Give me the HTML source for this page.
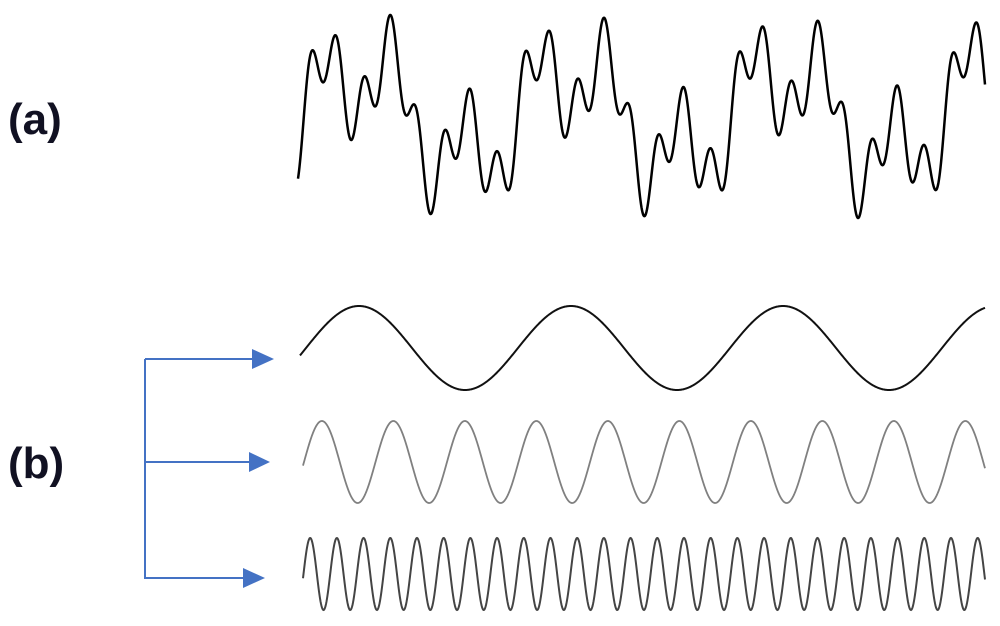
<!DOCTYPE html>
<html><head><meta charset="utf-8"><style>
html,body{margin:0;padding:0;background:#fff;}
svg{display:block;}
text{font-family:"Liberation Sans",sans-serif;font-weight:bold;font-size:44px;fill:#111122;}
</style></head><body>
<svg id="s" width="1000" height="626" viewBox="0 0 1000 626" xmlns="http://www.w3.org/2000/svg">
<text x="8" y="134">(a)</text>
<text x="8" y="478">(b)</text>
<g stroke="#4472C4" stroke-width="2" fill="none">
<line x1="145" y1="359" x2="145" y2="579"/>
<line x1="145" y1="359" x2="255" y2="359"/>
<line x1="145" y1="462" x2="252" y2="462"/>
<line x1="145" y1="578" x2="245" y2="578"/>
</g>
<g fill="#4472C4">
<polygon points="252,349 274,359 252,369"/>
<polygon points="249,452 270,462 249,472"/>
<polygon points="243,568 265,578 243,588"/>
</g>
<path id="pa" fill="none" stroke="#000" stroke-width="2.5" stroke-linejoin="round"/>
<path id="p1" fill="none" stroke="#111" stroke-width="2"/>
<path id="p2" fill="none" stroke="#808080" stroke-width="1.8"/>
<path id="p3" fill="none" stroke="#444" stroke-width="2"/>
</svg>
<script>
(function(){
var T=2*Math.PI;
function s1(x){return Math.sin(T*(x-306)/212);}
function s2(x){return Math.sin(T*(x-304)/71.5);}
function s3(x){return Math.sin(T*(x-303.5)/26.7);}
function mk(f,x0,x1){var d="";for(var x=x0;x<=x1;x+=0.5){d+=(x==x0?"M":"L")+x.toFixed(1)+","+f(x).toFixed(2)+" ";}return d;}
document.getElementById("p1").setAttribute("d",mk(function(x){return 348-42*s1(x);},300,985));
document.getElementById("p2").setAttribute("d",mk(function(x){return 462-41*s2(x);},303,985));
document.getElementById("p3").setAttribute("d",mk(function(x){return 574-36*s3(x);},303,985));
var mn=1e9,mx=-1e9,v=[];
for(var x=298;x<=985;x+=0.5){var y=42*s1(x)+41*s2(x)+30*s3(x);v.push([x,y]);if(y<mn)mn=y;if(y>mx)mx=y;}
var d="";v.forEach(function(p,i){var y=218-(p[1]-mn)/(mx-mn)*203;d+=(i?"L":"M")+p[0].toFixed(1)+","+y.toFixed(2)+" ";});
document.getElementById("pa").setAttribute("d",d);
})();
</script>
</body></html>
